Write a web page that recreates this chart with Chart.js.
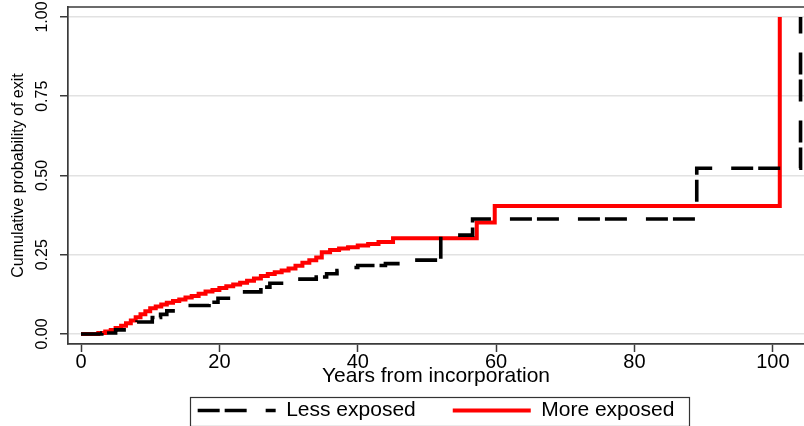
<!DOCTYPE html>
<html>
<head>
<meta charset="utf-8">
<script src="https://cdn.jsdelivr.net/npm/chart.js@4/dist/chart.umd.min.js"></script>
<style>
html,body{margin:0;padding:0;background:#fff;}
#wrap{width:804px;height:426px;position:relative;}
</style>
</head>
<body>
<div id="wrap"><canvas id="c"></canvas></div>
<script>
// ---- data ----
const seriesNames = ['Less exposed', 'More exposed'];

const lessTimes  = [0, 3, 5, 8.1, 10.3, 11.5, 12.4, 15.3, 18.5, 19.8, 22.7, 26, 27.3, 30.9, 34, 35.5, 37, 38.4, 40, 44, 46.5, 52, 56.6, 89, 104];
const lessValues = [0, 0.003, 0.013, 0.038, 0.052, 0.062, 0.073, 0.09, 0.1, 0.113, 0.133, 0.148, 0.16, 0.173, 0.18, 0.19, 0.2, 0.21, 0.216, 0.222, 0.233, 0.312, 0.363, 0.523, 1.0];

const moreTimes  = [0, 2.5, 3.5, 4.3, 5.0, 5.8, 6.5, 7.2, 7.9, 8.6, 9.3, 10.0, 10.8, 11.6, 12.4, 13.3, 14.2, 15.1, 16.0, 17.0, 18, 19, 20, 21, 22, 23, 24, 25, 26, 27, 28, 29, 30, 31, 32, 33, 34, 34.8, 36, 37.3, 38.6, 40, 41.5, 43, 45.1, 57.2, 59.8, 101];
const moreValues = [0, 0.003, 0.008, 0.013, 0.019, 0.026, 0.034, 0.043, 0.053, 0.062, 0.072, 0.081, 0.087, 0.093, 0.099, 0.104, 0.109, 0.115, 0.12, 0.127, 0.134, 0.139, 0.145, 0.151, 0.156, 0.162, 0.168, 0.175, 0.183, 0.189, 0.195, 0.2, 0.207, 0.215, 0.225, 0.233, 0.241, 0.258, 0.265, 0.27, 0.274, 0.279, 0.284, 0.29, 0.302, 0.352, 0.404, 1.0];

const xTickValues = [0, 20, 40, 60, 80, 100];
const xTickLabels = ['0', '20', '40', '60', '80', '100'];
const yTickValues = [0, 0.25, 0.5, 0.75, 1];
const yTickLabels = ['0.00', '0.25', '0.50', '0.75', '1.00'];
const xTitle = 'Years from incorporation';
const yTitle = 'Cumulative probability of exit';

// ---- styling ----
const FONT = "'Liberation Sans', Arial, Helvetica, sans-serif";
const FRAME = '#3a3a3a';
const LEGEND_PAD = 37;

const toPoints = (ts, vs) => ts.map((t, i) => ({x: t, y: vs[i]}));

const frameAndLegend = {
  id: 'frameAndLegend',
  beforeUpdate(chart) {
    const lg = chart.legend;
    if (lg && !lg._bandFit) {
      const fit = lg.fit;
      lg.fit = function () { fit.call(this); if (this.isHorizontal()) this.height = 30; };
      lg._bandFit = true;
    }
  },
  afterLayout(chart) {
    const lg = chart.legend, ca = chart.chartArea;
    if (!lg) return;
    lg.left = ca.left; lg.right = ca.right; lg.width = ca.right - ca.left;
    const rowTop = lg.top + 4;
    const bottom = chart.height;
    lg.top = rowTop - LEGEND_PAD; lg.bottom = bottom; lg.height = bottom - lg.top;
  },
  afterDraw(chart) {
    const {ctx, chartArea: ca} = chart;
    ctx.save();
    ctx.strokeStyle = FRAME; ctx.lineWidth = 1.7;
    ctx.beginPath(); ctx.moveTo(ca.left, ca.top); ctx.lineTo(ca.right + 2, ca.top); ctx.stroke();
    const hb = chart.legend && chart.legend.legendHitBoxes;
    if (hb && hb.length) {
      const last = hb[hb.length - 1];
      const l = hb[0].left - 8, r = last.left + last.width + 14;
      const t = hb[0].top - 3.5, b = hb[0].top + hb[0].height + 4;
      ctx.lineWidth = 1.2; ctx.strokeStyle = '#333';
      ctx.strokeRect(Math.round(l) + 0.5, Math.round(t) + 0.5, Math.round(r - l), Math.round(b - t));
    }
    ctx.restore();
  }
};

new Chart(document.getElementById('c'), {
  type: 'line',
  data: {
    datasets: [
      {
        label: seriesNames[0],
        data: toPoints(lessTimes, lessValues),
        borderColor: '#000000',
        backgroundColor: '#000000',
        borderWidth: 3.6,
        borderDash: [22, 5, 22, 19],
        stepped: 'before',
        pointRadius: 0,
        fill: false
      },
      {
        label: seriesNames[1],
        data: toPoints(moreTimes, moreValues),
        borderColor: '#ff0000',
        backgroundColor: '#ff0000',
        borderWidth: 4,
        stepped: 'before',
        pointRadius: 0,
        fill: false
      }
    ]
  },
  options: {
    responsive: true,
    maintainAspectRatio: false,
    animation: false,
    events: [],
    layout: {padding: {left: 0, right: 0, top: 7, bottom: 0}},
    scales: {
      x: {
        type: 'linear', min: -1.88, max: 104.5,
        afterBuildTicks: s => { s.ticks = xTickValues.map(v => ({value: v})); },
        afterFit: s => { s.height = 52; s.paddingLeft = 0; s.paddingRight = 0; },
        ticks: {
          callback: (v, i) => xTickLabels[i],
          autoSkip: false, minRotation: 0, maxRotation: 0, padding: 0,
          font: {family: FONT, size: 20, lineHeight: 1}, color: '#000'
        },
        grid: {drawOnChartArea: false, drawTicks: true, tickLength: 8, tickColor: FRAME, tickWidth: 1.5},
        border: {display: true, color: FRAME, width: 1.7},
        title: {display: true, text: xTitle, color: '#000',
                font: {family: FONT, size: 21, lineHeight: 1}, padding: {top: 0, bottom: 9}}
      },
      y: {
        type: 'linear', min: -0.0315, max: 1.0315,
        afterBuildTicks: s => { s.ticks = yTickValues.map(v => ({value: v})); },
        afterFit: s => { s.width = 68; s.paddingTop = 0; s.paddingBottom = 0; },
        ticks: {
          callback: (v, i) => yTickLabels[i],
          autoSkip: false, minRotation: 90, maxRotation: 90, crossAlign: 'center', padding: 2,
          font: {family: FONT, size: 16}, color: '#000'
        },
        grid: {color: '#e2e2e2', lineWidth: 1.5, tickColor: FRAME, tickLength: 8, tickWidth: 1.5},
        border: {display: true, color: FRAME, width: 1.7},
        title: {display: true, text: yTitle, color: '#000',
                font: {family: FONT, size: 16}, padding: {top: 9, bottom: 0}}
      }
    },
    plugins: {
      tooltip: {enabled: false},
      legend: {
        display: true, position: 'bottom', align: 'center',
        labels: {
          usePointStyle: true, pointStyle: 'line', pointStyleWidth: 78,
          padding: LEGEND_PAD, color: '#000',
          font: {family: FONT, size: 21},
          generateLabels: chart => chart.data.datasets.map((ds, i) => ({
            text: ds.label,
            fillStyle: ds.borderColor,
            strokeStyle: ds.borderColor,
            lineWidth: ds.borderWidth,
            lineDash: ds.borderDash || [],
            lineDashOffset: 0,
            lineCap: 'butt',
            pointStyle: 'line',
            fontColor: '#000',
            hidden: !chart.isDatasetVisible(i),
            datasetIndex: i
          }))
        }
      }
    }
  },
  plugins: [frameAndLegend]
});
</script>
</body>
</html>
